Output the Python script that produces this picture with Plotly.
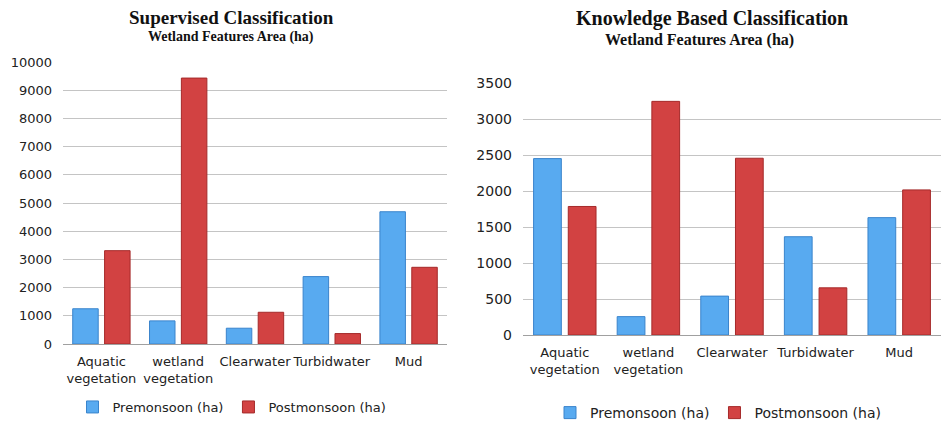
import plotly.graph_objects as go

W, H = 941, 425

categories = ["Aquatic<br>vegetation", "wetland<br>vegetation", "Clearwater", "Turbidwater", "Mud"]
series_names = ["Premonsoon (ha)", "Postmonsoon (ha)"]

sup_pre = [1250, 820, 560, 2390, 4690]
sup_post = [3310, 9430, 1125, 370, 2720]

kb_pre = [2450, 255, 540, 1365, 1630]
kb_post = [1785, 3245, 2455, 655, 2015]

sup_ticks = [0, 1000, 2000, 3000, 4000, 5000, 6000, 7000, 8000, 9000, 10000]
sup_ticktext = ["0", "1000", "2000", "3000", "4000", "5000", "6000", "7000", "8000", "9000", "10000"]
kb_ticks = [0, 500, 1000, 1500, 2000, 2500, 3000, 3500]
kb_ticktext = ["0", "500", "1000", "1500", "2000", "2500", "3000", "3500"]

BLUE = "#58aaf0"
BLUE_EDGE = "#3a84cc"
RED = "#d24242"
RED_EDGE = "#a52a2a"
FONT = "DejaVu Sans"
SERIF = "Liberation Serif"
TXT = "#222222"


def px(x):
    return x / W


def py(y):
    return 1 - y / H


fig = go.Figure()

fig.add_trace(go.Bar(x=categories, y=sup_pre, name=series_names[0],
                     marker=dict(color=BLUE, line=dict(color=BLUE_EDGE, width=1)),
                     xaxis="x", yaxis="y", legend="legend"))
fig.add_trace(go.Bar(x=categories, y=sup_post, name=series_names[1],
                     marker=dict(color=RED, line=dict(color=RED_EDGE, width=1)),
                     xaxis="x", yaxis="y", legend="legend"))
fig.add_trace(go.Bar(x=categories, y=kb_pre, name=series_names[0],
                     marker=dict(color=BLUE, line=dict(color=BLUE_EDGE, width=1)),
                     xaxis="x2", yaxis="y2", legend="legend2"))
fig.add_trace(go.Bar(x=categories, y=kb_post, name=series_names[1],
                     marker=dict(color=RED, line=dict(color=RED_EDGE, width=1)),
                     xaxis="x2", yaxis="y2", legend="legend2"))

fig.update_layout(
    width=W, height=H,
    margin=dict(l=0, r=0, t=0, b=0, autoexpand=False),
    paper_bgcolor="white", plot_bgcolor="white",
    barmode="group", bargap=0.17, bargroupgap=0.2,
    font=dict(family=FONT, color=TXT, size=13),
    xaxis=dict(domain=[px(63), px(447)], anchor="y", showgrid=False, automargin=False,
               showline=True, linecolor="#a0a0a0", linewidth=1, tickangle=0,
               tickfont=dict(size=13, color=TXT), ticks="", ticklabelstandoff=5),
    yaxis=dict(domain=[py(344), py(62)], anchor="x", range=[0, 10000], automargin=False,
               tickvals=sup_ticks, ticktext=sup_ticktext,
               showgrid=True, gridcolor="#c4c4c4", gridwidth=1,
               zeroline=False, showline=False,
               tickfont=dict(size=13, color=TXT), ticklabelstandoff=10),
    xaxis2=dict(domain=[px(523), 1.0], anchor="y2", showgrid=False, automargin=False,
                showline=True, linecolor="#a0a0a0", linewidth=1, tickangle=0,
                tickfont=dict(size=13, color=TXT), ticks="", ticklabelstandoff=5),
    yaxis2=dict(domain=[py(335), py(83)], anchor="x2", range=[0, 3500], automargin=False,
                tickvals=kb_ticks, ticktext=kb_ticktext,
                showgrid=True, gridcolor="#c4c4c4", gridwidth=1,
                zeroline=False, showline=False,
                tickfont=dict(size=14, color=TXT), ticklabelstandoff=10),
    legend=dict(orientation="h", x=px(232), y=py(407), xanchor="center", yanchor="middle",
                font=dict(size=13, color=TXT), bgcolor="rgba(0,0,0,0)",
                itemwidth=30),
    legend2=dict(orientation="h", x=px(718), y=py(413), xanchor="center", yanchor="middle",
                 font=dict(size=14, color=TXT), bgcolor="rgba(0,0,0,0)",
                 itemwidth=30),
    annotations=[
        dict(text="<b>Supervised Classification</b>", x=px(231), y=py(17),
             xref="paper", yref="paper", showarrow=False, xanchor="center", yanchor="middle",
             font=dict(family=SERIF, size=19, color="#111111")),
        dict(text="<b>Wetland Features Area (ha)</b>", x=px(231), y=py(37),
             xref="paper", yref="paper", showarrow=False, xanchor="center", yanchor="middle",
             font=dict(family=SERIF, size=14, color="#111111")),
        dict(text="<b>Knowledge Based Classification</b>", x=px(712), y=py(18),
             xref="paper", yref="paper", showarrow=False, xanchor="center", yanchor="middle",
             font=dict(family=SERIF, size=20, color="#111111")),
        dict(text="<b>Wetland Features Area (ha)</b>", x=px(699), y=py(40),
             xref="paper", yref="paper", showarrow=False, xanchor="center", yanchor="middle",
             font=dict(family=SERIF, size=16, color="#111111")),
    ],
)

fig.write_html("out.html",
               config={"displayModeBar": False},
               post_script="document.body.style.margin='0';document.body.style.overflow='hidden';")
